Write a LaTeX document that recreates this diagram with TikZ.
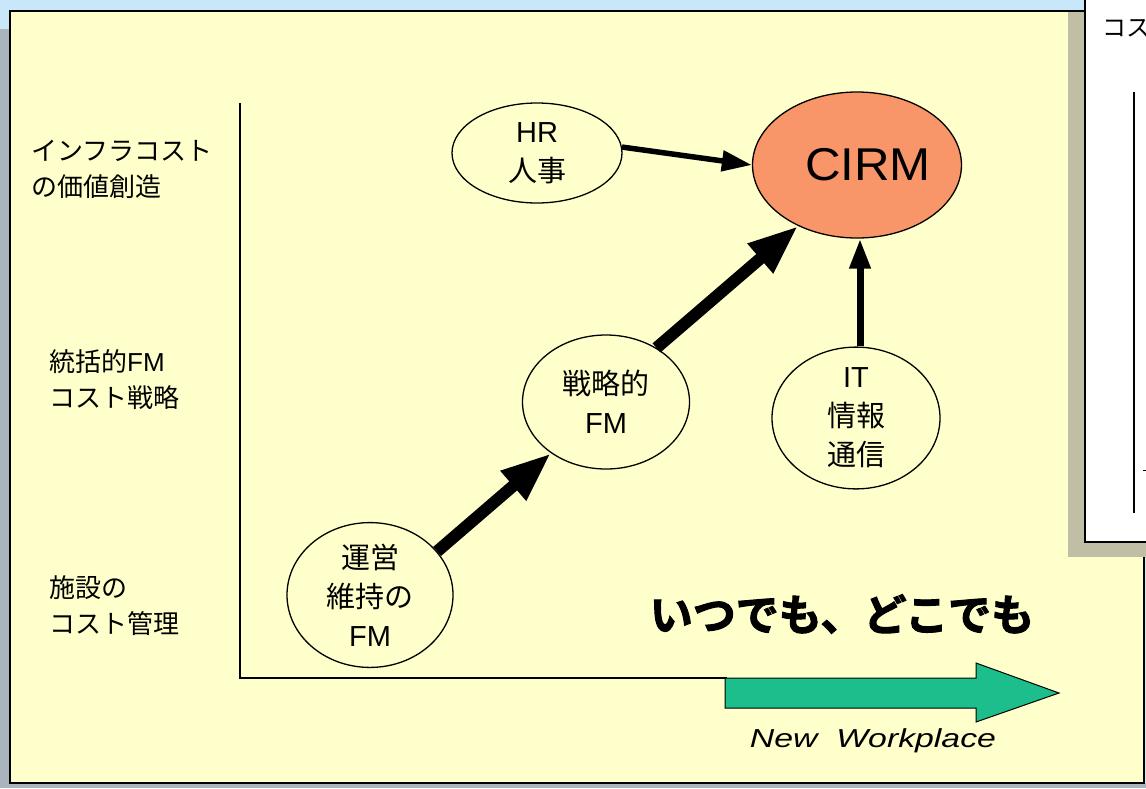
\documentclass[tikz,border=0pt]{standalone}
\usepackage{fontspec}
\usepackage{graphicx}
\setmainfont{Liberation Sans}
\newfontfamily\jp{Noto Sans CJK JP}
\newfontfamily\jpheavy{Noto Sans CJK JP}[BoldFont={* Bold}, BoldFeatures={FakeBold=2.5}]
\usetikzlibrary{arrows.meta,shapes.geometric}
\definecolor{bgblue}{RGB}{200,232,250}
\definecolor{panel}{RGB}{255,255,204}
\definecolor{sidegray}{RGB}{169,180,188}
\definecolor{shadowc}{RGB}{192,190,164}
\definecolor{cirmfill}{RGB}{248,150,106}
\definecolor{wpgreen}{RGB}{28,190,140}
\tikzset{
  ell/.style={ellipse, draw=black, line width=1.3pt, inner sep=0pt, align=center,
              font=\fontsize{29}{39}\selectfont},
  lab/.style={anchor=west, align=left, inner sep=0pt, font=\fontsize{26}{36}\selectfont},
  bigarrow/.style={line width=12pt, -{Triangle[length=50pt,width=36pt]}},
  thinarrow/.style={line width=5.5pt, -{Triangle[length=30pt,width=20pt]}},
  axis/.style={line width=1.8pt}
}
\begin{document}
\begin{tikzpicture}[x=1pt,y=-1pt]
\useasboundingbox (0,0) rectangle (1146,788);
\clip (0,0) rectangle (1146,788);
% backgrounds
\fill[bgblue] (0,0) rectangle (1146,788);
\fill[sidegray] (0,29) rectangle (10,788);
\fill[sidegray] (0,783) rectangle (1146,788);
\fill[panel] (10,11) rectangle (1144,783);
\draw[line width=1.6pt] (10,11) rectangle (1144,783);
% window shadow and window
\fill[shadowc] (1068,12) rectangle (1085,557);
\fill[shadowc] (1068,542) rectangle (1146,557);
\fill[white] (1085,-2) rectangle (1148,542);
\draw[line width=1.5pt] (1085,-2) -- (1085,542) -- (1148,542);
\node[anchor=west, inner sep=0pt, font=\jp\fontsize{24}{24}\selectfont] (wt) at (1102,28) {コス};
\draw[line width=1.2pt] (1134,92) -- (1134,513);
\draw[line width=1pt] (1143,470) -- (1147,470);
% axes
\coordinate (ytop) at (240,103);
\coordinate (orig) at (240,678);
\coordinate (xend) at (727,678);
\draw[axis] (ytop) -- (orig) -- (xend);
% green arrow
\draw[fill=wpgreen, line width=1pt, line join=miter]
  (725,678) -- (976,678) -- (976,663) -- (1059,693) -- (976,722) -- (976,708) -- (725,708) -- cycle;
\node[inner sep=0pt, font=\fontsize{26}{26}\selectfont\itshape] (nw) at (873,741)
  {\scalebox{1.3}[1]{New\ \ Workplace}};
% left labels
\node[lab] (lab1) at (31,169) {\jp インフラコスト\\\jp の価値創造};
\node[lab] (lab2) at (49,380) {{\jp 統括的}FM\\{\jp コスト戦略}};
\node[lab] (lab3) at (49,606) {{\jp 施設の}\\{\jp コスト管理}};
% ellipses
\node[ell, minimum width=170, minimum height=100] (hr) at (537,153) {HR\\{\jp 人事}};
\node[ell, fill=cirmfill, minimum width=204, minimum height=146,
      font=\fontsize{46}{46}\selectfont] (cirm) at (857,165) {\hspace*{22pt}\scalebox{1.07}[1]{CIRM}};
\node[ell, minimum width=167, minimum height=134] (strat) at (606,402) {{\jp 戦略的}\\FM};
\node[ell, minimum width=168, minimum height=132] (it) at (856,418) {IT\\{\jp 情報}\\{\jp 通信}};
\node[ell, minimum width=166, minimum height=136] (ops) at (370,595) {{\jp 運営}\\{\jp 維持の}\\FM};
% arrows
\draw[thinarrow] (hr.4) -- (cirm.west);
\draw[bigarrow] (strat.47) -- (cirm.226);
\draw[bigarrow] (ops.33) -- (strat.223);
\draw[line width=7pt, -{Triangle[length=30pt,width=20pt]}] ([xshift=4pt]it.north) -- ([xshift=3pt]cirm.south);
% slogan
\node[inner sep=0pt, font=\jpheavy\bfseries\fontsize{43}{43}\selectfont] (slogan) at (842,614) {いつでも、どこでも};
\end{tikzpicture}
\end{document}
